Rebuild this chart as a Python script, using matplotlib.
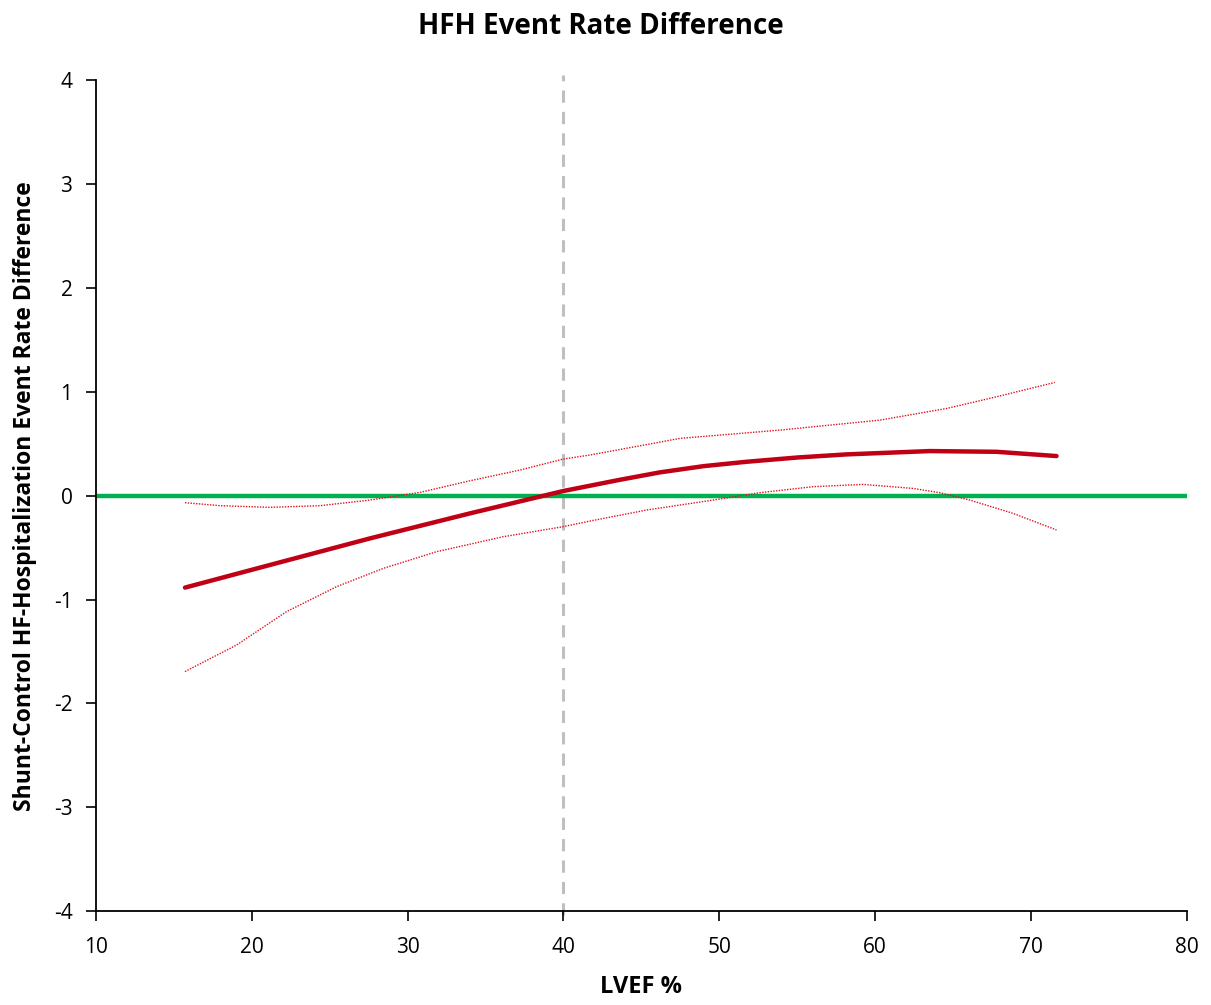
import matplotlib
matplotlib.use("Agg")
import matplotlib.pyplot as plt
from matplotlib import font_manager

# Fonts
names = {f.name for f in font_manager.fontManager.ttflist}
fam = [n for n in ["Liberation Sans Narrow", "Open Sans", "DejaVu Sans"] if n in names]
plt.rcParams['font.family'] = fam
plt.rcParams['axes.unicode_minus'] = False

# Data
est_x = [15.71, 21.16, 27.58, 34.0, 39.98, 43.5, 46.19, 49.0, 51.75, 55.0, 58.16, 63.5, 67.79, 71.64]
est_y = [-0.885, -0.667, -0.411, -0.170, 0.045, 0.150, 0.225, 0.285, 0.327, 0.368, 0.398, 0.430, 0.423, 0.382]

upper_x = [15.71, 17.96, 21.16, 24.37, 27.58, 30.79, 34.0, 37.2, 39.98, 41.7, 47.47, 53.89, 60.3, 64.58, 67.79, 71.53]
upper_y = [-0.067, -0.096, -0.112, -0.096, -0.042, 0.032, 0.144, 0.247, 0.353, 0.392, 0.552, 0.632, 0.728, 0.840, 0.953, 1.091]

lower_x = [15.71, 19.03, 22.23, 25.44, 28.43, 31.86, 36.13, 39.98, 41.7, 45.33, 50.04, 52.6, 56.02, 59.23, 62.44, 64.15, 66.08, 68.85, 71.64]
lower_y = [-1.694, -1.437, -1.116, -0.876, -0.700, -0.539, -0.395, -0.298, -0.244, -0.138, -0.032, 0.029, 0.087, 0.109, 0.070, 0.029, -0.042, -0.170, -0.330]

ref_x = 40
zero_y = 0

x_ticks = [10, 20, 30, 40, 50, 60, 70, 80]
y_ticks = [-4, -3, -2, -1, 0, 1, 2, 3, 4]

fig = plt.figure(figsize=(12.11, 10.05), dpi=100)
ax = fig.add_axes([0.0793, 0.0935, 0.9007, 0.8265])

ax.axvline(ref_x, ymin=-0.005, ymax=1.007, color="#BFBFBF", lw=2.2, ls=(0, (4, 3)), zorder=1, clip_on=False)
ax.axhline(zero_y, color="#00B050", lw=3.2, zorder=2)
ax.plot(upper_x, upper_y, color="#E0101A", lw=1.0, ls=(0, (1, 1)), zorder=3)
ax.plot(lower_x, lower_y, color="#E0101A", lw=1.0, ls=(0, (1, 1)), zorder=3)
ax.plot(est_x, est_y, color="#C00014", lw=3.2, solid_capstyle="round", solid_joinstyle="round", zorder=4)

ax.set_xlim(10, 80)
ax.set_ylim(-4, 4)
ax.set_xticks(x_ticks)
ax.set_yticks(y_ticks)
ax.tick_params(axis="both", direction="out", length=7, width=1.2, labelsize=15, color="black")
ax.tick_params(axis="x", pad=12)
ax.tick_params(axis="y", pad=10)
for s in ["top", "right"]:
    ax.spines[s].set_visible(False)
for s in ["left", "bottom"]:
    ax.spines[s].set_linewidth(1.3)

ax.set_xlabel("LVEF %", fontsize=17, fontweight="bold", labelpad=12)
ax.set_ylabel("Shunt-Control HF-Hospitalization Event Rate Difference", fontsize=16.5, fontweight="bold", labelpad=12)
fig.suptitle("HFH Event Rate Difference", fontsize=20, fontweight="bold", x=0.496, y=0.988)

fig.savefig("out.png", dpi=100)
